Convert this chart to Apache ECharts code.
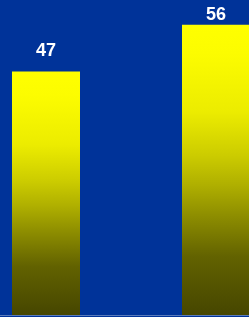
<!DOCTYPE html>
<html>

<head>
    <meta charset="utf-8">
    <script src="https://cdn.jsdelivr.net/npm/echarts@6/dist/echarts.min.js"></script>
    <style>
        html,
        body {
            margin: 0;
            padding: 0;
            background: #003399;
        }

        #main {
            width: 249px;
            height: 317px;
        }
    </style>
</head>

<body>
    <div id="main"></div>
    <script type="text/javascript">
        var categories = ['A', 'B'];
        var values = [47, 56];
        var labelDistances = [11, 1];

        var myChart = echarts.init(document.getElementById('main'));

        var seriesData = values.map(function (v, i) {
            return { value: v, label: { distance: labelDistances[i] } };
        });

        var option = {
            backgroundColor: '#003399',
            animation: false,
            grid: {
                left: -39,
                width: 340,
                top: 4,
                bottom: 2,
                containLabel: false,
                outerBoundsMode: 'none'
            },
            xAxis: {
                type: 'category',
                data: categories,
                axisLine: { show: true, lineStyle: { color: 'rgba(200,210,230,0.45)', width: 1 } },
                axisTick: { show: false },
                axisLabel: { show: false }
            },
            yAxis: {
                type: 'value',
                min: 0,
                max: 60,
                show: false,
                splitLine: { show: false }
            },
            series: [{
                type: 'bar',
                data: seriesData,
                barWidth: 68,
                itemStyle: {
                    color: new echarts.graphic.LinearGradient(0, 0, 0, 1, [
                        { offset: 0, color: '#ffff00' },
                        { offset: 0.1, color: '#fcfc00' },
                        { offset: 0.3, color: '#ecec00' },
                        { offset: 0.45, color: '#cccc00' },
                        { offset: 0.55, color: '#b0b000' },
                        { offset: 0.65, color: '#909000' },
                        { offset: 0.8, color: '#626200' },
                        { offset: 1, color: '#464600' }
                    ])
                },
                label: {
                    show: true,
                    position: 'top',
                    color: '#ffffff',
                    fontFamily: 'Liberation Sans',
                    fontWeight: 'bold',
                    fontSize: 18,
                    textBorderWidth: 0
                }
            }]
        };
        myChart.setOption(option);
    </script>
</body>

</html>
